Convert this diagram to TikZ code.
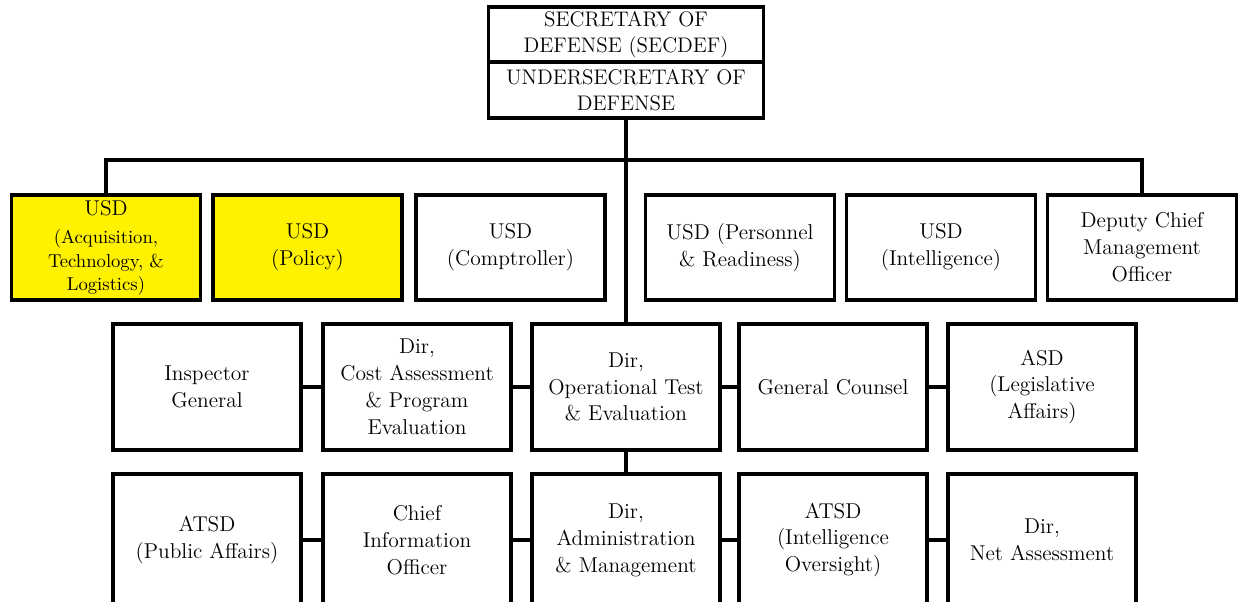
\documentclass[tikz,border=0pt]{standalone}
\usepackage{tikz}

\newcommand{\acqsize}{\fontsize{10.6}{12.8}\selectfont}

\begin{document}
\begin{tikzpicture}[x=0.02cm,y=-0.02cm,
  box/.style={draw,line width=2.2pt,align=center,inner sep=0pt,
    font=\fontsize{12.2}{15.3}\selectfont,minimum width=3.78cm,minimum height=2.1cm},
  lowbox/.style={box,minimum width=3.76cm,minimum height=2.52cm},
  topbox/.style={box,font=\fontsize{12}{14.7}\selectfont,minimum width=5.5cm,minimum height=1.1cm},
  line/.style={line width=2.2pt}]
 \useasboundingbox (0,0) rectangle (1238,602);

 \node[topbox] (sec) at (626,34.5) {SECRETARY OF\\DEFENSE (SECDEF)};
 \node[topbox,minimum height=1.12cm] (under) at (626,90) {UNDERSECRETARY OF\\DEFENSE};

 \node[box,fill=yellow] (acq) at (106,247.5) {USD\\[1pt]{\acqsize (Acquisition,}\\[-2pt]{\acqsize Technology, \&}\\[-2pt]{\acqsize Logistics)}};
 \node[box,fill=yellow] (pol) at (307.5,247.5) {USD\\(Policy)};
 \node[box] (cmp) at (510.5,247.5) {USD\\(Comptroller)};
 \node[box] (pr) at (740,247.5) {USD (Personnel\\\& Readiness)};
 \node[box] (int) at (941,247.5) {USD\\(Intelligence)};
 \node[box] (dcmo) at (1142,247.5) {Deputy Chief\\Management\\Officer};

 \node[lowbox] (ig) at (207,387) {Inspector\\General};
 \node[lowbox] (cape) at (417,387) {Dir,\\Cost Assessment\\\& Program\\Evaluation};
 \node[lowbox] (ote) at (626,387) {Dir,\\Operational Test\\\& Evaluation};
 \node[lowbox] (gc) at (833,387) {General Counsel};
 \node[lowbox] (asd) at (1042,387) {ASD\\(Legislative\\Affairs)};

 \node[lowbox,minimum height=2.64cm] (pa) at (207,540) {ATSD\\(Public Affairs)};
 \node[lowbox,minimum height=2.64cm] (cio) at (417,540) {Chief\\Information\\Officer};
 \node[lowbox,minimum height=2.64cm] (adm) at (626,540) {Dir,\\Administration\\\& Management};
 \node[lowbox,minimum height=2.64cm] (io) at (833,540) {ATSD\\(Intelligence\\Oversight)};
 \node[lowbox,minimum height=2.64cm] (na) at (1042,540) {Dir,\\Net Assessment};

 \coordinate (barl) at (106,160);
 \coordinate (barr) at (1142,160);
 \draw[line] (acq) -- (barl) -- (barr) -- (dcmo);
 \draw[line] (under) -- (ote);
 \draw[line] (ote) -- (adm);

 \draw[line] (ig) -- (cape);
 \draw[line] (cape) -- (ote);
 \draw[line] (ote) -- (gc);
 \draw[line] (gc) -- (asd);

 \draw[line] (pa) -- (cio);
 \draw[line] (cio) -- (adm);
 \draw[line] (adm) -- (io);
 \draw[line] (io) -- (na);
\end{tikzpicture}
\end{document}
